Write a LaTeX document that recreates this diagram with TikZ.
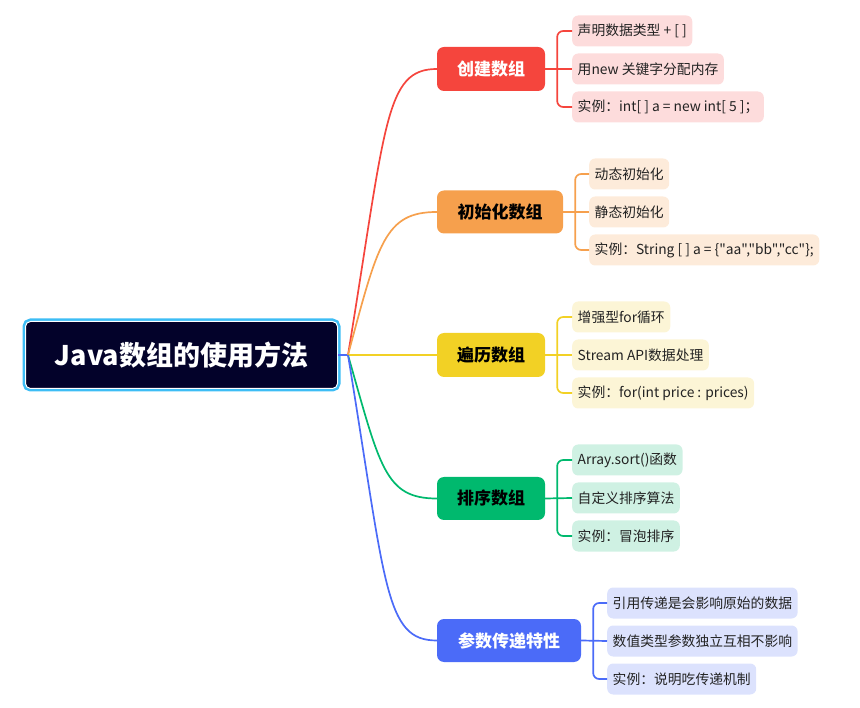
\documentclass[tikz,border=0pt]{standalone}
\usepackage{fontspec}
\setmainfont{Noto Sans CJK SC}
\newfontfamily\cjkfont{Noto Sans CJK SC}
\usetikzlibrary{calc}
\definecolor{rootfill}{HTML}{03022A}
\definecolor{rootframe}{HTML}{3DBDF5}
\definecolor{cred}{HTML}{F5453D}
\definecolor{lred}{HTML}{FDDCDC}
\definecolor{corange}{HTML}{F6A04D}
\definecolor{lorange}{HTML}{FDEBDA}
\definecolor{cyellow}{HTML}{F2D125}
\definecolor{lyellow}{HTML}{FCF5D6}
\definecolor{cgreen}{HTML}{00B96E}
\definecolor{lgreen}{HTML}{CFF1E3}
\definecolor{cblue}{HTML}{4B6BF8}
\definecolor{lblue}{HTML}{DCE2FD}
\definecolor{leaftext}{HTML}{222222}
\begin{document}
\begin{tikzpicture}[x=1pt,y=-1pt,
  rootbox/.style={fill=rootfill, draw=white, line width=1pt, rounded corners=5pt,
    preaction={draw=rootframe, line width=6pt, rounded corners=5pt},
    minimum width=312pt, minimum height=67pt, inner sep=0pt,
    text=white, font=\cjkfont\fontsize{27}{31}\selectfont\bfseries},
  branch/.style={fill=#1, rounded corners=7pt, minimum height=44pt, inner sep=0pt,
    font=\cjkfont\fontsize{17}{20}\selectfont\bfseries},
  leaf/.style={fill=#1, rounded corners=6pt, minimum height=31pt, inner xsep=5.5pt,
    inner ysep=0pt, anchor=west, text=leaftext, font=\cjkfont\fontsize{13.8}{16}\selectfont},
  link/.style={draw=#1, line width=1.7pt},
  bracket/.style={draw=#1, line width=1.7pt, rounded corners=6pt}
]
\useasboundingbox (0,0) rectangle (860,708);

% root
\node[rootbox] (root) at (181.5,355) {Java数组的使用方法};
\coordinate (hub) at (348,355);

% branches
\node[branch=cred, minimum width=108pt, text=white] (b1) at (491,69) {创建数组};
\node[branch=corange, minimum width=126pt, minimum height=43pt, text=black] (b2) at (500,212) {初始化数组};
\node[branch=cyellow, minimum width=108pt, text=black] (b3) at (491,355) {遍历数组};
\node[branch=cgreen, minimum width=108pt, minimum height=43pt, text=black] (b4) at (491,498.5) {排序数组};
\node[branch=cblue, minimum width=144pt, minimum height=43pt, text=white] (b5) at (509,640.5) {参数传递特性};

% leaves
\node[leaf=lred] (l11) at (572,31) {声明数据类型 + [ ]};
\node[leaf=lred] (l12) at (572,69) {用new 关键字分配内存};
\node[leaf=lred] (l13) at (572,107) {实例：int[ ] a = new int[ 5 ]；};

\node[leaf=lorange] (l21) at (589,174) {动态初始化};
\node[leaf=lorange] (l22) at (589,212) {静态初始化};
\node[leaf=lorange] (l23) at (589,250) {实例：String [ ] a = \{"aa","bb","cc"\};};

\node[leaf=lyellow] (l31) at (572,317) {增强型for循环};
\node[leaf=lyellow] (l32) at (572,355) {Stream API数据处理};
\node[leaf=lyellow] (l33) at (572,393) {实例：for(int price : prices)};

\node[leaf=lgreen] (l41) at (572,460) {Array.sort()函数};
\node[leaf=lgreen] (l42) at (572,498) {自定义排序算法};
\node[leaf=lgreen] (l43) at (572,536) {实例：冒泡排序};

\node[leaf=lblue] (l51) at (607,603) {引用传递是会影响原始的数据};
\node[leaf=lblue] (l52) at (607,641) {数值类型参数独立互相不影响};
\node[leaf=lblue] (l53) at (607,679) {实例：说明吃传递机制};

% root to branches
\draw[link=cblue] (root.east) -- (hub);
\draw[link=cred] (hub) .. controls +(38,-232) and +(-52,0) .. (b1.west);
\draw[link=corange] (hub) .. controls +(30,-112) and +(-52,0) .. (b2.west);
\draw[link=cyellow] (hub) -- (b3.west);
\draw[link=cgreen] (hub) .. controls +(32,112) and +(-52,0) .. (b4.west);
\draw[link=cblue] (hub) .. controls +(38,232) and +(-52,0) .. (b5.west);

% brackets
\draw[bracket=cred] (l11.west) -| ($(b1.east)+(12,0)$) |- (l13.west);
\draw[link=cred] (b1.east) -- (l12.west);
\draw[bracket=corange] (l21.west) -| ($(b2.east)+(12,0)$) |- (l23.west);
\draw[link=corange] (b2.east) -- (l22.west);
\draw[bracket=cyellow] (l31.west) -| ($(b3.east)+(12,0)$) |- (l33.west);
\draw[link=cyellow] (b3.east) -- (l32.west);
\draw[bracket=cgreen] (l41.west) -| ($(b4.east)+(12,0)$) |- (l43.west);
\draw[link=cgreen] (b4.east) -- (l42.west);
\draw[bracket=cblue] (l51.west) -| ($(b5.east)+(12,0)$) |- (l53.west);
\draw[link=cblue] (b5.east) -- (l52.west);
\end{tikzpicture}
\end{document}
